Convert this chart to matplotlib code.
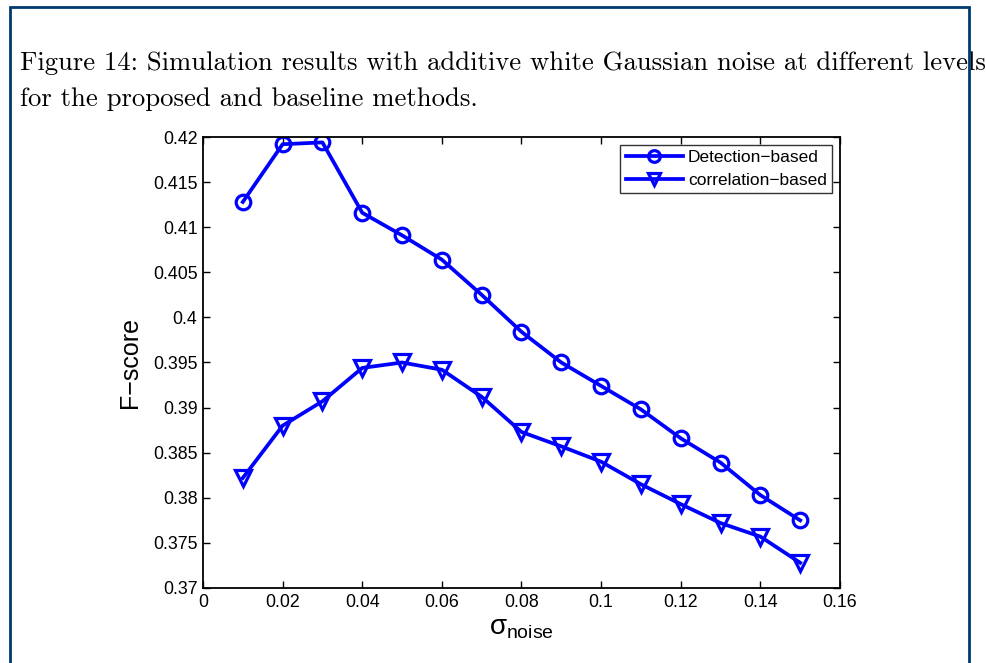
import matplotlib
matplotlib.use("Agg")
import matplotlib.pyplot as plt
from matplotlib.patches import Rectangle

sigma = [0.01, 0.02, 0.03, 0.04, 0.05, 0.06, 0.07, 0.08, 0.09, 0.10, 0.11, 0.12, 0.13, 0.14, 0.15]
detection = [0.4128, 0.4192, 0.4194, 0.4116, 0.4091, 0.4064, 0.4025, 0.3984, 0.3950, 0.3924,
             0.3898, 0.3866, 0.3839, 0.3803, 0.3775]
correlation = [0.3822, 0.3880, 0.3907, 0.3944, 0.3950, 0.3942, 0.3912, 0.3873, 0.3857, 0.3840,
               0.3815, 0.3793, 0.3772, 0.3757, 0.3728]
xticks = [0, 0.02, 0.04, 0.06, 0.08, 0.1, 0.12, 0.14, 0.16]
yticks = [0.37, 0.375, 0.38, 0.385, 0.39, 0.395, 0.4, 0.405, 0.41, 0.415, 0.42]
caption_lines = ["Figure 14: Simulation results with additive white Gaussian noise at different levels",
                 "for the proposed and baseline methods."]

plt.rcParams['font.family'] = ['Liberation Sans', 'DejaVu Sans']
plt.rcParams['mathtext.fontset'] = 'custom'
plt.rcParams['mathtext.rm'] = 'Liberation Sans'
plt.rcParams['mathtext.it'] = 'Liberation Sans'

fig = plt.figure(figsize=(9.87, 6.63), dpi=100)
W, H = 987, 663

# page frame
fig.patches.append(Rectangle((10 / W, -0.05), (969 - 10) / W, (H - 7) / H + 0.05,
                             transform=fig.transFigure, fill=False,
                             edgecolor='#003a70', linewidth=2.0, zorder=5))

# caption
fig.text(20 / W, 1 - 70 / H, caption_lines[0], family='cmr10', fontsize=19.2,
         va='baseline', ha='left', zorder=-1)
fig.text(20 / W, 1 - 106 / H, caption_lines[1], family='cmr10', fontsize=19.2,
         va='baseline', ha='left')

ax = fig.add_axes([203 / W, 75 / H, 637 / W, 451 / H])
blue = '#0000ff'
ax.plot(sigma, detection, '-o', color=blue, lw=2.7, markersize=10.5,
        markerfacecolor='none', markeredgewidth=2.3, label='Detection\u2212based')
ax.plot(sigma, correlation, '-v', color=blue, lw=2.7, markersize=11,
        markerfacecolor='none', markeredgewidth=2.3, label='correlation\u2212based')

ax.set_xlim(0, 0.16)
ax.set_ylim(0.37, 0.42)
ax.set_xticks(xticks)
ax.set_xticklabels(['0', '0.02', '0.04', '0.06', '0.08', '0.1', '0.12', '0.14', '0.16'])
ax.set_yticks(yticks)
ax.set_yticklabels(['0.37', '0.375', '0.38', '0.385', '0.39', '0.395', '0.4', '0.405',
                    '0.41', '0.415', '0.42'])
ax.tick_params(direction='in', top=True, right=True, length=5, width=1.0,
               labelsize=12.8, pad=4)
for s in ax.spines.values():
    s.set_linewidth(1.3)

ax.set_xlabel(r'$\sigma_{\mathrm{noise}}$', fontsize=20, labelpad=3)
ax.set_ylabel('F\u2212score', fontsize=18, labelpad=8)

leg = ax.legend(loc='upper right', fontsize=12.5, frameon=True, fancybox=False,
                edgecolor='black', borderpad=0.3, handlelength=3.3, handletextpad=0.3,
                labelspacing=0.45, borderaxespad=0.45, markerscale=0.8)
leg.get_frame().set_linewidth(1.0)

fig.savefig('out.png', dpi=100)
